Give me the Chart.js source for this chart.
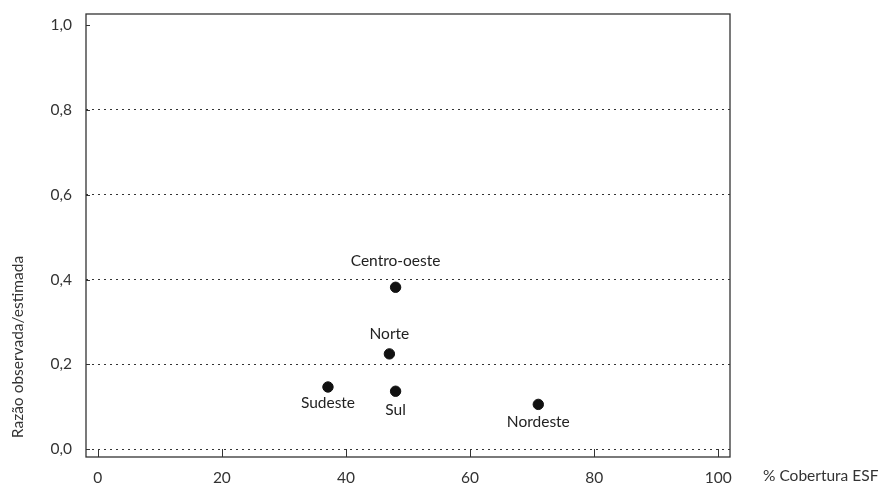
<!DOCTYPE html>
<html>
<head>
<meta charset="utf-8">
<script src="https://cdn.jsdelivr.net/npm/chart.js@4/dist/chart.umd.min.js"></script>
<style>
html,body{margin:0;padding:0;background:#fff;}
#wrap{width:884px;height:486px;position:relative;}
</style>
</head>
<body>
<div id="wrap"><canvas id="c"></canvas></div>
<script>
const regions = ["Centro-oeste", "Norte", "Sudeste", "Sul", "Nordeste"];
const coverage = [48.0, 47.0, 37.1, 48.0, 71.0];
const ratio = [0.382, 0.225, 0.147, 0.137, 0.106];
const xTicks = [0, 20, 40, 60, 80, 100];
const yTicks = [0.0, 0.2, 0.4, 0.6, 0.8, 1.0];
const yTitle = "Razão observada/estimada";
const xTitle = "% Cobertura ESF";

// label placement (style, not data): vertical offset in px from each point
const labelOffsetPx = [-26, -20, 16, 19, 18];

const FONT = "Lato, 'Noto Sans', sans-serif";
const FS = 15.5;
const INK = "#333";

const decor = {
  id: 'decor',
  afterDraw(chart) {
    const ctx = chart.ctx, a = chart.chartArea;
    const xs = chart.scales.x, ys = chart.scales.y;
    ctx.save();
    ctx.strokeStyle = INK;
    ctx.lineWidth = 1.3;
    ctx.strokeRect(a.left, a.top, a.right - a.left, a.bottom - a.top);
    ctx.lineWidth = 1;
    xTicks.forEach(v => {
      const px = Math.round(xs.getPixelForValue(v)) + 0.5;
      ctx.beginPath(); ctx.moveTo(px, a.bottom); ctx.lineTo(px, a.bottom - 8); ctx.stroke();
    });
    yTicks.forEach(v => {
      const py = Math.round(ys.getPixelForValue(v)) + 0.5;
      ctx.beginPath(); ctx.moveTo(a.left, py); ctx.lineTo(a.left + 4, py); ctx.stroke();
    });
    ctx.fillStyle = "#222";
    ctx.font = FS + "px " + FONT;
    ctx.textAlign = "center";
    ctx.textBaseline = "middle";
    const meta = chart.getDatasetMeta(0);
    meta.data.forEach((pt, i) => {
      ctx.fillText(regions[i], pt.x, pt.y + labelOffsetPx[i]);
    });
    ctx.fillStyle = INK;
    ctx.textAlign = "left";
    ctx.fillText(xTitle, 763, 476);
    ctx.translate(18, 347);
    ctx.rotate(-Math.PI / 2);
    ctx.textAlign = "center";
    ctx.fillText(yTitle, 0, 0);
    ctx.restore();
  }
};

new Chart(document.getElementById('c'), {
  type: 'scatter',
  data: {
    datasets: [{
      data: coverage.map((x, i) => ({ x: x, y: ratio[i] })),
      backgroundColor: "#111",
      borderColor: "#111",
      pointRadius: 5.2,
      pointHoverRadius: 5.2
    }]
  },
  options: {
    responsive: true,
    maintainAspectRatio: false,
    animation: false,
    events: [],
    layout: { padding: { left: 0, top: 14, right: 154, bottom: 0 } },
    plugins: { legend: { display: false }, tooltip: { enabled: false } },
    scales: {
      x: {
        type: 'linear',
        min: -1.9,
        max: 101.9,
        afterBuildTicks(s) { s.ticks = xTicks.map(v => ({ value: v })); },
        afterFit(s) { s.height = 29; s.paddingLeft = 0; s.paddingRight = 0; },
        grid: { display: false },
        border: { display: false },
        ticks: { color: INK, font: { family: FONT, size: FS }, padding: 4, maxRotation: 0,
          callback: v => String(v) }
      },
      y: {
        type: 'linear',
        min: -0.018,
        max: 1.026,
        afterBuildTicks(s) { s.ticks = yTicks.map(v => ({ value: v })); },
        afterFit(s) { s.width = 86; s.paddingTop = 0; s.paddingBottom = 0; },
        grid: {
          drawTicks: false,
          color: ctx => (ctx.tick && ctx.tick.value >= 0.99) ? 'rgba(0,0,0,0)' : '#333',
          lineWidth: 1
        },
        border: { display: false, dash: [2, 4] },
        ticks: { color: INK, font: { family: FONT, size: FS }, padding: 14,
          callback: v => v.toFixed(1).replace('.', ',') }
      }
    }
  },
  plugins: [decor]
});
</script>
</body>
</html>
